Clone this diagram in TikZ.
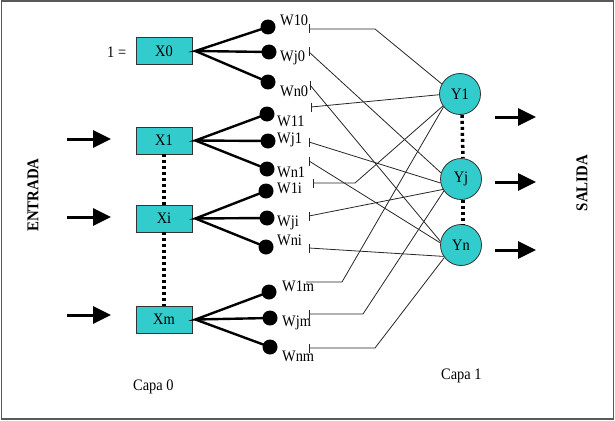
\documentclass[tikz,border=0pt]{standalone}
\usepackage{fontspec}
\setmainfont[FakeStretch=0.9]{Liberation Serif}
\usetikzlibrary{arrows.meta,calc}
\definecolor{tq}{RGB}{51,204,204}
\begin{document}
\begin{tikzpicture}[x=1pt,y=-1pt,
  font=\fontsize{16}{18}\selectfont,
  inbox/.style={draw=black!80, fill=tq, minimum width=56pt, minimum height=27pt, inner sep=0pt, line width=0.8pt},
  outnode/.style={circle, draw=black!80, fill=tq, minimum size=41pt, inner sep=0pt, line width=0.8pt},
  wdot/.style={circle, fill=black, minimum size=15pt, inner sep=0pt},
  fan/.style={line width=2.4pt},
  wlab/.style={anchor=base west, inner sep=0pt},
  conn/.style={line width=0.8pt, black!85},
  tickmark/.style={line width=0.8pt, black!85},
  dotline/.style={line width=3.5pt, dash pattern=on 3pt off 3pt},
  bigarrow/.style={line width=3pt, -{Triangle[length=18pt,width=17pt]}},
  side/.style={font=\fontsize{16.5}{18}\selectfont\bfseries, rotate=90},
]
\useasboundingbox (0,0) rectangle (615,420);
\draw[line width=1.5pt, black!65] (1.5,1) rectangle (613.5,419);

% input boxes
\node[inbox] (X0) at (164,51) {X0};
\node[inbox] (X1) at (164,140.5) {X1};
\node[inbox] (Xi) at (164,218.5) {Xi};
\node[inbox] (Xm) at (164,319.5) {Xm};
\node[wlab] (one) at (107,57) {1 =};

\draw[dotline] (X1.south) -- (Xi.north);
\draw[dotline] (Xi.south) -- (Xm.north);

% output nodes
\node[outnode] (Y1) at (460,94) {Y1};
\node[outnode] (Yj) at (461,179) {Yj};
\node[outnode] (Yn) at (461,245) {Yn};
\draw[dotline] ([xshift=2pt]Y1.south) -- ([xshift=2pt]Yj.north);
\draw[dotline] ([xshift=2pt]Yj.south) -- ([xshift=2pt]Yn.north);

% weight dots
\node[wdot] (d10) at (268,27) {};
\node[wdot] (dj0) at (269,52) {};
\node[wdot] (dn0) at (268,82) {};
\node[wdot] (d11) at (267,114) {};
\node[wdot] (dj1) at (268,141) {};
\node[wdot] (dn1) at (267,169) {};
\node[wdot] (d1i) at (266,191) {};
\node[wdot] (dji) at (267,218) {};
\node[wdot] (dni) at (266,247) {};
\node[wdot] (d1m) at (269,292) {};
\node[wdot] (djm) at (270,318) {};
\node[wdot] (dnm) at (270,347) {};

% fans
\foreach \b/\p/\q/\r in {X0/d10/dj0/dn0, X1/d11/dj1/dn1, Xi/d1i/dji/dni, Xm/d1m/djm/dnm}{
  \draw[fan, line join=miter] (\p.center) -- ([xshift=3pt]\b.east) -- (\q.center);
  \draw[fan] ([xshift=3pt]\b.east) -- (\r.center);
}

% weight labels
\node[wlab] (l10) at (280,26) {W10};
\node[wlab] (lj0) at (280,61) {Wj0};
\node[wlab] (ln0) at (280,96) {Wn0};
\node[wlab] (l11) at (277,126) {W11};
\node[wlab] (lj1) at (277,143) {Wj1};
\node[wlab] (ln1) at (277,177.5) {Wn1};
\node[wlab] (l1i) at (277,193) {W1i};
\node[wlab] (lji) at (277,226) {Wji};
\node[wlab] (lni) at (277,245) {Wni};
\node[wlab] (l1m) at (282,291) {W1m};
\node[wlab] (ljm) at (282,326) {Wjm};
\node[wlab] (lnm) at (282,361) {Wnm};

% connector start points
\coordinate (t10) at (309,29);
\coordinate (tj0) at (309,52);
\coordinate (tn0) at (310,85);
\coordinate (t11) at (311,107);
\coordinate (tj1) at (309,142);
\coordinate (tn1) at (309,161);
\coordinate (t1i) at (313,183);
\coordinate (tji) at (309,216);
\coordinate (tni) at (309,248);
\coordinate (t1m) at (306,282);
\coordinate (tjm) at (309,314);
\coordinate (tnm) at (309,348);
% bends
\coordinate (b10) at (375,29);
\coordinate (b1i) at (355,183);
\coordinate (b1m) at (342,282);
\coordinate (bjm) at (363,314);
\coordinate (bnm) at (375,348);

\foreach \t in {t10,tj0,tn0,t11,tj1,tn1,t1i,tji,tni,tjm,tnm}{
  \draw[tickmark] ($(\t)+(0,-4.5)$) -- ($(\t)+(0,4.5)$);
}

\draw[conn] (t10) -- (b10) -- (Y1.151);
\draw[conn] (t11) -- (Y1.182);
\draw[conn] (t1i) -- (b1i) -- (Y1.215);
\draw[conn] (t1m) -- (b1m) -- (Y1.218);
\draw[conn] (tj0) -- (Yj.163);
\draw[conn] (tj1) -- (Yj.191);
\draw[conn] (tji) -- (Yj.210);
\draw[conn] (tjm) -- (bjm) -- (Yj.215);
\draw[conn] (tn0) -- (Yn.170);
\draw[conn] (tn1) -- (Yn.174);
\draw[conn] (tni) -- (Yn.213);
\draw[conn] (tnm) -- (bnm) -- (Yn.217);

% input / output arrows
\coordinate (ia1) at (67,139);  \coordinate (ib1) at (111,139);
\coordinate (ia2) at (67,217);  \coordinate (ib2) at (111,217);
\coordinate (ia3) at (67,315);  \coordinate (ib3) at (111,315);
\coordinate (oa1) at (495,117); \coordinate (ob1) at (536,117);
\coordinate (oa2) at (495,182); \coordinate (ob2) at (536,182);
\coordinate (oa3) at (495,250); \coordinate (ob3) at (536,250);
\foreach \i in {1,2,3}{
  \draw[bigarrow] (ia\i) -- (ib\i);
  \draw[bigarrow] (oa\i) -- (ob\i);
}

\node[side] (entrada) at (33,195) {ENTRADA};
\node[side] (salida) at (582,183) {SALIDA};
\node[wlab] (capa0) at (133,390) {Capa 0};
\node[wlab] (capa1) at (441,379) {Capa 1};
\end{tikzpicture}
\end{document}
